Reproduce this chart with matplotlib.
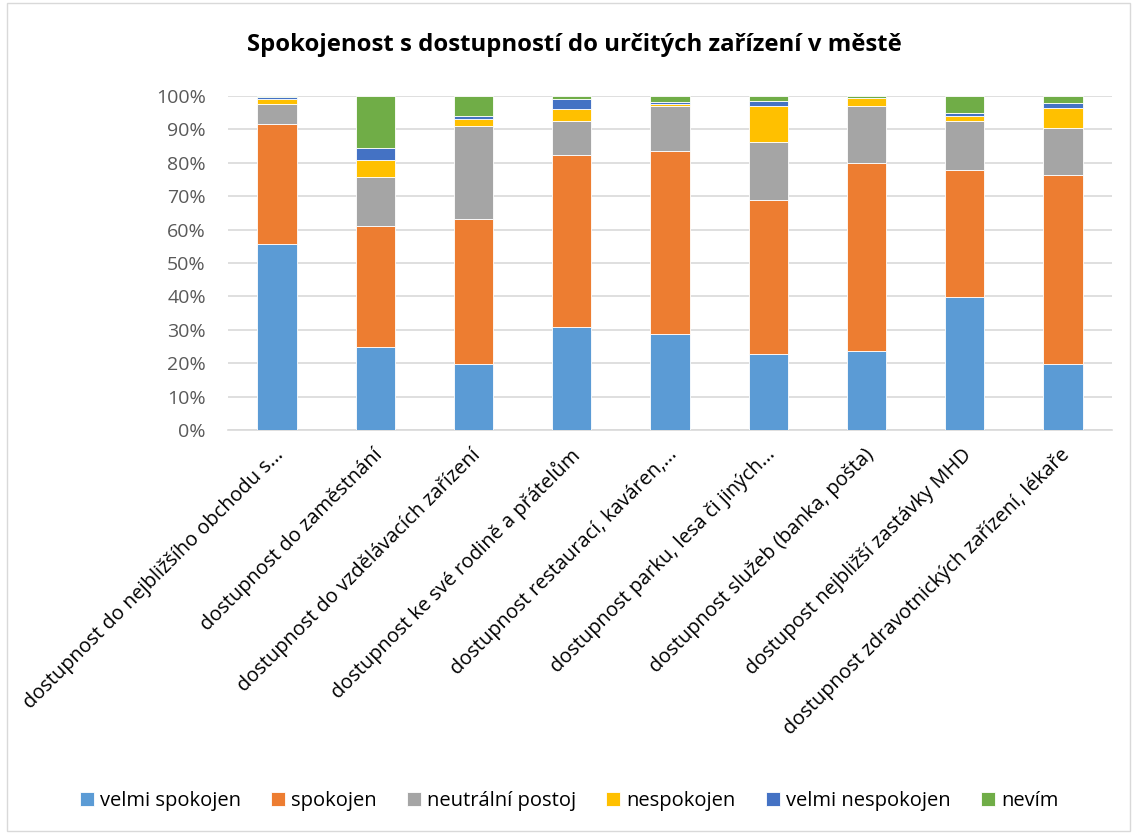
import numpy as np
import matplotlib
matplotlib.use('Agg')
import matplotlib.pyplot as plt
from matplotlib.patches import Rectangle
from matplotlib.ticker import PercentFormatter

plt.rcParams['font.family'] = ['Open Sans', 'DejaVu Sans']

categories = [
    "dostupnost do nejbližšího obchodu s...",
    "dostupnost do zaměstnání",
    "dostupnost do vzdělávacích zařízení",
    "dostupnost ke své rodině a přátelům",
    "dostupnost restaurací, kaváren,...",
    "dostupnost parku, lesa či jiných...",
    "dostupnost služeb (banka, pošta)",
    "dostupost nejbližší zastávky MHD",
    "dostupnost zdravotnických zařízení, lékaře",
]

series_names = ["velmi spokojen", "spokojen", "neutrální postoj",
                "nespokojen", "velmi nespokojen", "nevím"]
colors = ["#5B9BD5", "#ED7D31", "#A5A5A5", "#FFC000", "#4472C4", "#70AD47"]

# percentages
velmi_spokojen   = [55.8, 25.0, 19.8, 30.8, 28.7, 22.8, 23.6, 39.7, 19.8]
spokojen         = [35.9, 36.0, 43.4, 51.5, 54.9, 46.2, 56.4, 38.2, 56.6]
neutralni        = [ 5.9, 14.7, 27.8, 10.3, 13.4, 17.1, 17.1, 14.7, 14.0]
nespokojen       = [ 1.6,  5.1,  2.2,  3.5,  0.6, 11.0,  2.2,  1.5,  5.9]
velmi_nespokojen = [ 0.5,  3.7,  0.8,  3.1,  0.7,  1.3,  0.1,  0.7,  1.5]
nevim            = [ 0.3, 15.5,  6.0,  0.8,  1.7,  1.6,  0.6,  5.2,  2.2]

data = np.array([velmi_spokojen, spokojen, neutralni,
                 nespokojen, velmi_nespokojen, nevim])
data = data / data.sum(axis=0) * 100

fig = plt.figure(figsize=(11.38, 8.34), dpi=100)
ax = fig.add_axes([228/1138, 1 - 430/834, (1112-228)/1138, (430-96)/834])

x = np.arange(len(categories))
bottom = np.zeros(len(categories))
for name, vals, c in zip(series_names, data, colors):
    ax.bar(x, vals, 0.4, bottom=bottom, color=c, label=name,
           edgecolor='white', linewidth=0.6, zorder=3)
    bottom += vals

ax.set_xlim(-0.5, len(categories) - 0.5)
ax.set_ylim(0, 100)
ax.set_yticks(np.arange(0, 101, 10))
ax.yaxis.set_major_formatter(PercentFormatter(decimals=0))
ax.grid(axis='y', color='#d9d9d9', linewidth=1.2, zorder=0)
for s in ['top', 'right', 'left']:
    ax.spines[s].set_visible(False)
ax.spines['bottom'].set_color('#d9d9d9')
ax.spines['bottom'].set_linewidth(1.2)
ax.tick_params(axis='both', length=0)
ax.tick_params(axis='y', labelsize=14, labelcolor='#595959', pad=16)

ax.set_xticks(x)
ax.set_xticklabels(categories, rotation=45, ha='right', va='top',
                   rotation_mode='anchor', fontsize=14.4, color='black')
for lbl in ax.get_xticklabels():
    lbl.set_transform(lbl.get_transform() +
                      matplotlib.transforms.ScaledTranslation(-0.03, -0.1, fig.dpi_scale_trans))

fig.text(0.5 + 5/1138, 1 - 45/834, "Spokojenost s dostupností do určitých zařízení v městě",
         ha='center', va='center', fontsize=17.2, fontweight='bold')

fig.legend(loc='center', bbox_to_anchor=(0.5, 1 - 801/834), ncol=6, frameon=False,
           fontsize=14.5, handlelength=0.7, handleheight=0.7, handletextpad=0.3,
           columnspacing=1.5)

fig.patches.append(Rectangle((7/1138, 3/834), 1123/1138, 828/834, transform=fig.transFigure,
                             fill=False, edgecolor='#d9d9d9', linewidth=1))

fig.savefig('out.png', dpi=100)
